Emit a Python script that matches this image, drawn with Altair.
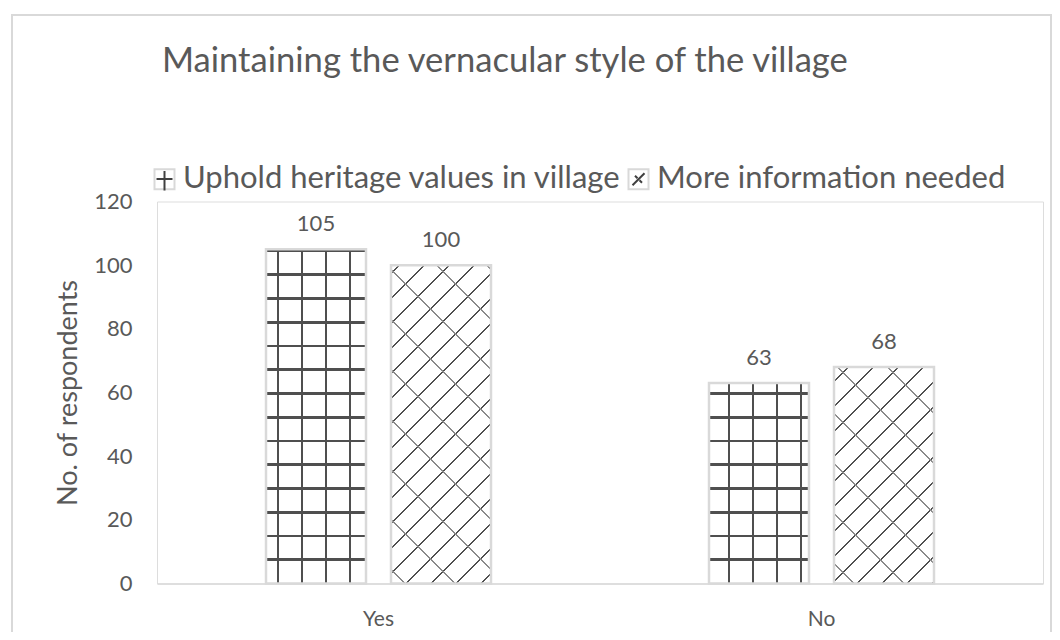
import altair as alt
import pandas as pd

# ---------------- data ----------------
categories = ["Yes", "No"]
series_names = ["Uphold heritage values in village", "More information needed"]
uphold_values = [105, 63]
more_info_values = [100, 68]
y_ticks = [0, 20, 40, 60, 80, 100, 120]
title_text = "Maintaining the vernacular style of the village"
y_title = "No. of respondents"
symbol_keys = ["s1", "s2"]

rows = []
for i, c in enumerate(categories):
    rows.append({"category": c, "series": series_names[0], "sym": symbol_keys[0], "value": uphold_values[i]})
    rows.append({"category": c, "series": series_names[1], "sym": symbol_keys[1], "value": more_info_values[i]})
df = pd.DataFrame(rows)

# ---------------- style / geometry ----------------
FONT = "Lato"
INK = "#595959"
LINE = "#4f4f4f"
EDGE = "#d9d9d9"
CLEAR = "rgba(255,255,255,0)"
PLOT_W = 886
PLOT_H = 382
Y_MAX = 120
PAD_IN = 0.2
PAD_OUT = 0.872
band = PLOT_W / len(categories)
step = band / (len(series_names) - PAD_IN + 2 * PAD_OUT)
BAR_W = step * (1 - PAD_IN)

GRID_SPACING = 23.75
GRID_HALF = 1.3
GRID_PHASE = {"Yes": 12, "No": 20}
HATCH_PERIOD = 25.0
HATCH_HALF = 1.0
HATCH_PHASE = {"Yes": 8, "No": 14}
CROSS_PERIOD = 50.0
CROSS_HALF = 0.6


def stripe_stops(centers, half, total, bg, fg):
    stops = [{"offset": 0, "color": bg}]
    for p in centers:
        a = max(0.0, (p - half) / total)
        b = min(1.0, (p + half) / total)
        if b <= 0 or a >= 1:
            continue
        stops += [
            {"offset": a, "color": bg},
            {"offset": a, "color": fg},
            {"offset": b, "color": fg},
            {"offset": b, "color": bg},
        ]
    stops.append({"offset": 1, "color": bg})
    return stops


def vertical_lines(cat):
    centers = []
    p = GRID_PHASE[cat]
    while p < BAR_W:
        centers.append(p)
        p += 24
    return {"gradient": "linear", "x1": 0, "y1": 0, "x2": 1, "y2": 0,
            "stops": stripe_stops(centers, GRID_HALF, BAR_W, "white", LINE)}


def horizontal_lines(v):
    h = v / Y_MAX * PLOT_H
    centers = []
    k = 1
    while h - GRID_SPACING * k > 0:
        centers.append(h - GRID_SPACING * k)
        k += 1
    centers.sort()
    return {"gradient": "linear", "x1": 0, "y1": 0, "x2": 0, "y2": 1,
            "stops": stripe_stops(centers, GRID_HALF, h, CLEAR, LINE)}


def diagonal_lines(cat, v):
    # lines rising to the right (X + Y constant)
    w = BAR_W
    h = v / Y_MAX * PLOT_H
    c = (w + h) / (w * w + h * h)
    total = w + h
    centers = []
    u = HATCH_PHASE[cat]
    while u < total:
        centers.append(u)
        u += HATCH_PERIOD
    return {"gradient": "linear", "x1": 0, "y1": 0, "x2": c * w, "y2": c * h,
            "stops": stripe_stops(centers, HATCH_HALF, total, "white", LINE)}


def counter_lines(cat, v):
    # light lines falling to the right (X - Y constant)
    w = BAR_W
    h = v / Y_MAX * PLOT_H
    c = (w + h) / (w * w + h * h)
    total = w + h
    centers = []
    u = HATCH_PHASE[cat] + 6
    while u < total:
        centers.append(u)
        u += CROSS_PERIOD
    return {"gradient": "linear", "x1": 0, "y1": 1, "x2": c * w, "y2": 1 - c * h,
            "stops": stripe_stops(centers, CROSS_HALF, total, CLEAR, "#8a8a8a")}


# ---------------- encodings ----------------
x_enc = alt.X(
    "category:N",
    scale=alt.Scale(domain=categories, paddingInner=0, paddingOuter=0),
    axis=alt.Axis(title=None, labelAngle=0, labelFont=FONT, labelFontSize=21,
                  labelColor=INK, labelPadding=25, ticks=False, domainColor=EDGE,
                  domainWidth=1.5, grid=False),
)
xo_enc = alt.XOffset(
    "series:N",
    scale=alt.Scale(domain=series_names, paddingInner=PAD_IN, paddingOuter=PAD_OUT),
)
y_enc = alt.Y(
    "value:Q",
    scale=alt.Scale(domain=[0, Y_MAX], nice=False),
    axis=alt.Axis(values=y_ticks, title=y_title, titleFont=FONT, titleFontSize=27,
                  titleFontWeight="normal", titleColor=INK, titlePadding=11,
                  labelFont=FONT, labelFontSize=22, labelColor=INK, labelPadding=25,
                  domain=False, ticks=False, grid=False),
)

base = alt.Chart(df).encode(x=x_enc, xOffset=xo_enc, y=y_enc)

layers = []
# border of the chart area
border = alt.Chart(pd.DataFrame({"k": [0]})).mark_rect(
    fill="transparent", stroke=EDGE, strokeWidth=2
).encode(x=alt.value(-145), x2=alt.value(894), y=alt.value(-186.5), y2=alt.value(PLOT_H + 90))
layers.append(border)

for i, cat in enumerate(categories):
    s0, s1 = series_names
    f0 = (alt.datum.category == cat) & (alt.datum.series == s0)
    f1 = (alt.datum.category == cat) & (alt.datum.series == s1)
    layers.append(base.transform_filter(f0).mark_bar(fill=vertical_lines(cat), strokeWidth=0))
    layers.append(base.transform_filter(f0).mark_bar(fill=horizontal_lines(uphold_values[i]), strokeWidth=0))
    layers.append(base.transform_filter(f1).mark_bar(fill=diagonal_lines(cat, more_info_values[i]), strokeWidth=0))
    layers.append(base.transform_filter(f1).mark_bar(fill=counter_lines(cat, more_info_values[i]), strokeWidth=0))

LEG_X = -8
LEG_Y = -38
LEG_FONT = 31
SYM = 400
COL_PAD = 1
outline = base.mark_bar(fill="transparent", strokeWidth=2.5).encode(
    stroke=alt.Stroke(
        "series:N",
        scale=alt.Scale(domain=series_names, range=[EDGE, EDGE]),
        legend=alt.Legend(
            title=None, orient="none", legendX=LEG_X, legendY=LEG_Y, direction="horizontal",
            symbolType="square", symbolSize=SYM, symbolFillColor="white", symbolStrokeWidth=2,
            labelFont=FONT, labelFontSize=LEG_FONT, labelColor=INK, labelOffset=3,
            columnPadding=COL_PAD, padding=0, labelLimit=700,
        ),
    )
)
layers.append(outline)

cross_path = "M-0.8,0H0.8M0,-0.8V1.15"
hatch_path = "M-0.6,0.6L0.6,-0.6M-0.35,-0.35L-0.1,-0.1M0.1,0.1L0.35,0.35"
label_expr = "datum.label == '%s' ? '%s' : '%s'" % (symbol_keys[0], series_names[0], series_names[1])
marker = base.mark_point(opacity=0, filled=False).encode(
    shape=alt.Shape(
        "sym:N",
        scale=alt.Scale(domain=symbol_keys, range=[cross_path, hatch_path]),
        legend=alt.Legend(
            title=None, orient="none", legendX=LEG_X, legendY=LEG_Y, direction="horizontal",
            symbolSize=SYM, symbolFillColor="transparent", symbolStrokeColor="#404040",
            symbolStrokeWidth=2, symbolOpacity=1, labelExpr=label_expr,
            labelFont=FONT, labelFontSize=LEG_FONT, labelColor=CLEAR, labelOffset=3,
            columnPadding=COL_PAD, padding=0, labelLimit=700,
        ),
    )
)
layers.append(marker)

labels = base.mark_text(dy=-25, font=FONT, fontSize=22, color=INK).encode(text="value:Q")
layers.append(labels)

chart = alt.layer(*layers).properties(
    width=PLOT_W,
    height=PLOT_H,
    autosize=alt.AutoSizeParams(type="none"),
    padding={"left": 149, "top": 193.5, "right": 9, "bottom": 48.5},
    title=alt.TitleParams(text=title_text, font=FONT, fontSize=34.6, fontWeight="normal",
                          color=INK, anchor="start", frame="group", dx=5, offset=0,
                          baseline="alphabetic", dy=93),
).configure_view(stroke=None).configure(background="white")

chart.save("out.html", embed_options={"renderer": "svg", "actions": False})
